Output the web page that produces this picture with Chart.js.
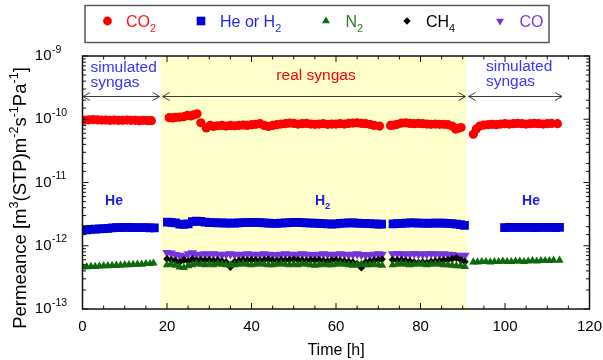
<!DOCTYPE html>
<html><head><meta charset="utf-8">
<script src="https://cdn.jsdelivr.net/npm/chart.js@4.4.0/dist/chart.umd.min.js"></script>
<style>html,body{margin:0;padding:0;background:#fff}canvas{display:block}</style>
</head><body>
<canvas id="c" width="603" height="360"></canvas>
<script>
const FONT = '"Liberation Sans", Arial, Helvetica, sans-serif';

// ---- axes / ticks ----
const xTickValues = [0, 20, 40, 60, 80, 100, 120];
const yDecades = [1e-13, 1e-12, 1e-11, 1e-10, 1e-9];
const yExponents = ['-13', '-12', '-11', '-10', '-9'];
const realSyngasStart = 18.5;
const realSyngasEnd = 90.9;

// ---- CO2 ----
const co2Time = [0.5,1.5,2.5,3.5,4.5,5.5,6.5,7.5,8.5,9.5,10.5,11.5,12.5,13.5,14.5,15.5,16.3,
  20.5,21.3,22,23,24,24.8,25.6,26.3,27.1,
  28,29.3,30.2,31,32,33,34,35,36,37,38,39,40,41,42,43,44,45,46,47,48,49,50,51,52,53,54,55,56,57,58,59,60,61,62,63,64,65,66,67,68,69,70.3,
  72.9,73.7,74.5,75.5,76.5,77.5,78.5,79.5,80.5,81.5,82.5,83.5,84.5,85.5,86.5,87.5,88.3,89,89.6,
  92.5,93.2,94,95,96,97,98,99,100,101,102,103,104,105,106,107,108,109,110,111,112.4];
const co2Values = [0.97e-10,0.98e-10,0.99e-10,0.98e-10,0.97e-10,0.97e-10,0.96e-10,0.97e-10,0.96e-10,0.96e-10,0.97e-10,0.96e-10,0.96e-10,0.95e-10,0.96e-10,0.95e-10,0.95e-10,
  1.06e-10,1.05e-10,1.07e-10,1.08e-10,1.10e-10,1.15e-10,1.13e-10,1.17e-10,1.22e-10,
  0.88e-10,0.73e-10,0.80e-10,
  0.77e-10,0.79e-10,0.80e-10,0.78e-10,0.80e-10,0.79e-10,0.80e-10,0.81e-10,0.80e-10,0.82e-10,
  0.83e-10,0.85e-10,0.80e-10,0.77e-10,0.80e-10,0.82e-10,0.84e-10,0.85e-10,0.87e-10,0.86e-10,
  0.84e-10,0.85e-10,0.86e-10,0.84e-10,0.83e-10,0.84e-10,0.85e-10,0.83e-10,0.84e-10,0.84e-10,
  0.85e-10,0.84e-10,0.86e-10,0.87e-10,0.88e-10,0.86e-10,0.85e-10,0.83e-10,0.80e-10,
  0.78e-10,
  0.80e-10,0.81e-10,0.83e-10,0.87e-10,0.88e-10,0.86e-10,0.85e-10,0.86e-10,0.85e-10,0.84e-10,0.83e-10,0.84e-10,0.83e-10,0.83e-10,0.82e-10,0.78e-10,0.70e-10,0.72e-10,0.74e-10,
  0.58e-10,0.70e-10,0.78e-10,0.81e-10,0.82e-10,0.83e-10,0.82e-10,0.84e-10,0.85e-10,0.84e-10,0.85e-10,0.86e-10,0.85e-10,0.84e-10,0.85e-10,0.86e-10,0.85e-10,0.84e-10,0.85e-10,0.86e-10,0.85e-10];

// ---- He or H2 ----
const hTime = [0,1,2,3,4,5,6,7,8,9,10,11,12,13,14,15,16,17,
  20.1,21,22,23,24,25,26,27,28,29,30,31,32,33,34,35,36,37,38,39,40,41,42,43,44,45,46,47,48,49,50,51,52,53,54,55,56,57,58,59,60,61,62,63,64,65,66,67,68,69,70,70.8,
  73.5,74.5,75.5,76.5,77.5,78.5,79.5,80.5,81.5,82.5,83.5,84.5,85.5,86.5,87.5,88.5,89.5,90.4,
  99.9,101,102,103,104,105,106,107,108,109,110,111,112,112.9];
const hValues = [1.77e-12,1.79e-12,1.81e-12,1.83e-12,1.85e-12,1.87e-12,1.89e-12,1.91e-12,1.93e-12,1.94e-12,1.95e-12,1.95e-12,1.94e-12,1.94e-12,1.93e-12,1.93e-12,1.92e-12,1.92e-12,
  2.36e-12,
  2.34e-12,2.30e-12,2.20e-12,2.18e-12,2.22e-12,2.40e-12,2.45e-12,2.42e-12,2.36e-12,2.33e-12,
  2.32e-12,2.30e-12,2.30e-12,2.28e-12,2.27e-12,2.28e-12,2.30e-12,2.32e-12,2.33e-12,2.34e-12,
  2.35e-12,2.33e-12,2.30e-12,2.28e-12,2.26e-12,2.25e-12,2.27e-12,2.30e-12,2.32e-12,2.34e-12,
  2.35e-12,2.33e-12,2.30e-12,2.28e-12,2.27e-12,2.25e-12,2.24e-12,2.22e-12,2.20e-12,2.22e-12,
  2.25e-12,2.28e-12,2.30e-12,2.30e-12,2.28e-12,2.26e-12,2.25e-12,2.24e-12,2.22e-12,2.20e-12,
  2.20e-12,
  2.22e-12,2.24e-12,2.26e-12,2.28e-12,2.30e-12,2.30e-12,2.28e-12,2.27e-12,2.26e-12,2.27e-12,2.28e-12,2.28e-12,2.27e-12,2.26e-12,2.24e-12,2.20e-12,2.15e-12,2.10e-12,
  1.94e-12,1.95e-12,1.96e-12,1.95e-12,1.95e-12,1.96e-12,1.95e-12,1.94e-12,1.95e-12,1.96e-12,1.95e-12,1.95e-12,1.94e-12,1.95e-12];

// ---- N2 ----
const n2Time = [0,1,2,3,4,5,6,7,8,9,10,11,12,13,14,15,16,16.8,
  20,21,22,23,24,25,26,27,28,29,30,31,32,33,34,35,36,37,38,39,40,41,42,43,44,45,46,47,48,49,50,51,52,53,54,55,56,57,58,59,60,61,62,63,64,65,66,67,68,69,70,70.9,
  73.4,74.5,75.5,76.5,77.5,78.5,79.5,80.5,81.5,82.5,83.5,84.5,85.5,86.5,87.5,88.5,89.5,90.5,
  92.5,93.5,94.5,95.5,96.5,97.5,98.5,99.5,100.5,101.5,102.5,103.5,104.5,105.5,106.5,107.5,108.5,109.5,110.5,111.5,112.9];
const n2Values = [0.46e-12,0.465e-12,0.47e-12,0.47e-12,0.475e-12,0.48e-12,0.48e-12,0.485e-12,0.49e-12,0.49e-12,0.50e-12,0.50e-12,0.505e-12,0.51e-12,0.51e-12,0.52e-12,0.52e-12,0.53e-12,
  0.50e-12,0.51e-12,0.49e-12,0.46e-12,0.45e-12,0.48e-12,0.50e-12,0.52e-12,0.51e-12,0.50e-12,
  0.51e-12,0.50e-12,0.52e-12,0.51e-12,0.50e-12,0.49e-12,0.50e-12,0.51e-12,0.52e-12,0.51e-12,
  0.50e-12,0.51e-12,0.52e-12,0.51e-12,0.50e-12,0.50e-12,0.51e-12,0.52e-12,0.51e-12,0.50e-12,
  0.51e-12,0.50e-12,0.52e-12,0.51e-12,0.50e-12,0.49e-12,0.50e-12,0.51e-12,0.50e-12,0.50e-12,
  0.51e-12,0.52e-12,0.51e-12,0.50e-12,0.49e-12,0.50e-12,0.51e-12,0.50e-12,0.50e-12,0.51e-12,
  0.50e-12,0.49e-12,
  0.50e-12,0.51e-12,0.52e-12,0.51e-12,0.50e-12,0.51e-12,0.52e-12,0.51e-12,0.50e-12,0.51e-12,0.52e-12,0.51e-12,0.50e-12,0.50e-12,0.49e-12,0.48e-12,0.48e-12,0.47e-12,
  0.55e-12,0.55e-12,0.56e-12,0.56e-12,0.55e-12,0.56e-12,0.56e-12,0.57e-12,0.56e-12,0.56e-12,0.57e-12,0.57e-12,0.56e-12,0.57e-12,0.58e-12,0.57e-12,0.58e-12,0.58e-12,0.58e-12,0.59e-12,0.59e-12];

// ---- CH4 ----
const ch4Time = [20,21,22,23,24,25,26,27,28,29,30,31,32,33,34,35,36,37,38,39,40,41,42,43,44,45,46,47,48,49,50,51,52,53,54,55,56,57,58,59,60,61,62,63,64,65,66,67,68,69,70,70.9,
  73.4,74.5,75.5,76.5,77.5,78.5,79.5,80.5,81.5,82.5,83.5,84.5,85.5,86.5,87.5,88.5,89.5,90.5];
const ch4Values = [0.62e-12,0.60e-12,0.58e-12,0.55e-12,0.60e-12,0.57e-12,0.62e-12,0.58e-12,0.60e-12,0.59e-12,
  0.60e-12,0.58e-12,0.59e-12,0.57e-12,0.55e-12,0.46e-12,0.56e-12,0.58e-12,0.60e-12,0.59e-12,
  0.60e-12,0.59e-12,0.58e-12,0.60e-12,0.61e-12,0.59e-12,0.58e-12,0.60e-12,0.59e-12,0.60e-12,
  0.61e-12,0.60e-12,0.59e-12,0.58e-12,0.60e-12,0.59e-12,0.60e-12,0.58e-12,0.57e-12,0.59e-12,
  0.60e-12,0.58e-12,0.57e-12,0.56e-12,0.55e-12,0.52e-12,0.45e-12,0.55e-12,0.57e-12,0.59e-12,
  0.60e-12,0.61e-12,
  0.60e-12,0.59e-12,0.60e-12,0.58e-12,0.57e-12,0.55e-12,0.54e-12,0.55e-12,0.54e-12,0.56e-12,0.57e-12,0.58e-12,0.59e-12,0.60e-12,0.62e-12,0.64e-12,0.60e-12,0.56e-12];

// ---- CO ----
const coTime = [20,21,22,23,24,25,26,27,28,29,30,31,32,33,34,35,36,37,38,39,40,41,42,43,44,45,46,47,48,49,50,51,52,53,54,55,56,57,58,59,60,61,62,63,64,65,66,67,68,69,70,70.9,
  73.4,74.5,75.5,76.5,77.5,78.5,79.5,80.5,81.5,82.5,83.5,84.5,85.5,86.5,87.5,88.5,89.5,90.5];
const coValues = [0.78e-12,0.76e-12,0.72e-12,0.70e-12,0.68e-12,0.74e-12,0.77e-12,0.72e-12,0.73e-12,0.74e-12,
  0.73e-12,0.74e-12,0.73e-12,0.72e-12,0.73e-12,0.74e-12,0.73e-12,0.72e-12,0.73e-12,0.74e-12,
  0.73e-12,0.72e-12,0.73e-12,0.74e-12,0.73e-12,0.72e-12,0.72e-12,0.73e-12,0.74e-12,0.73e-12,
  0.72e-12,0.73e-12,0.74e-12,0.73e-12,0.72e-12,0.72e-12,0.73e-12,0.74e-12,0.73e-12,0.72e-12,
  0.73e-12,0.74e-12,0.73e-12,0.72e-12,0.73e-12,0.74e-12,0.72e-12,0.71e-12,0.72e-12,0.73e-12,
  0.74e-12,0.73e-12,
  0.74e-12,0.75e-12,0.74e-12,0.73e-12,0.74e-12,0.75e-12,0.74e-12,0.73e-12,0.74e-12,0.75e-12,0.74e-12,0.73e-12,0.74e-12,0.73e-12,0.72e-12,0.70e-12,0.68e-12,0.70e-12];

const toPoints = (ts, vs) => ts.map((t, i) => ({x: t, y: vs[i]}));

const series = [
  {label: 'CO2', data: toPoints(co2Time, co2Values), color: '#FF0000', style: 'circle', r: 4.6, rot: 0,
   text: [['CO'], ['2', 'sub']], textColor: '#FF1a1a', mx: 107.5, tx: 126},
  {label: 'He or H2', data: toPoints(hTime, hValues), color: '#0000D6', style: 'rect', r: 6.2, rot: 0,
   text: [['He or H'], ['2', 'sub']], textColor: '#2222F0', mx: 201, tx: 220},
  {label: 'N2', data: toPoints(n2Time, n2Values), color: '#0E680E', style: 'triangle', r: 4.8, rot: 0,
   text: [['N'], ['2', 'sub']], textColor: '#2E7B2E', mx: 326, tx: 345.5},
  {label: 'CH4', data: toPoints(ch4Time, ch4Values), color: '#000000', style: 'rectRot', r: 3.9, rot: 0,
   text: [['CH'], ['4', 'sub']], textColor: '#000000', mx: 407, tx: 426},
  {label: 'CO', data: toPoints(coTime, coValues), color: '#7433DC', style: 'triangle', r: 5.4, rot: 180,
   text: [['CO']], textColor: '#7A3CE0', mx: 500, tx: 519.5}
];

function isDecade(v) {
  const l = Math.log10(v);
  return Math.abs(l - Math.round(l)) < 1e-6;
}

function richWidth(ctx, parts, base) {
  let w = 0;
  for (const p of parts) {
    const s = p[1] ? base * 0.68 : base;
    ctx.font = (p[2] || '') + ' ' + s + 'px ' + FONT;
    w += ctx.measureText(p[0]).width;
  }
  return w;
}
function drawRich(ctx, parts, x, y, base, color, weight) {
  ctx.fillStyle = color;
  ctx.textBaseline = 'alphabetic';
  ctx.textAlign = 'left';
  let cx = x;
  for (const p of parts) {
    const s = p[1] ? base * 0.68 : base;
    ctx.font = (weight || '') + ' ' + s + 'px ' + FONT;
    let dy = 0;
    if (p[1] === 'sub') dy = base * 0.32;
    if (p[1] === 'sup') dy = -base * 0.42;
    ctx.fillText(p[0], cx, y + dy);
    cx += ctx.measureText(p[0]).width;
  }
  return cx;
}

function marker(ctx, style, x, y, r, rot, color) {
  ctx.save();
  ctx.fillStyle = color;
  ctx.translate(x, y);
  ctx.rotate(rot * Math.PI / 180);
  ctx.beginPath();
  if (style === 'circle') {
    ctx.arc(0, 0, r, 0, Math.PI * 2);
  } else if (style === 'rect') {
    const s = r * Math.SQRT1_2;
    ctx.rect(-s, -s, 2 * s, 2 * s);
  } else if (style === 'rectRot') {
    ctx.moveTo(-r, 0); ctx.lineTo(0, -r); ctx.lineTo(r, 0); ctx.lineTo(0, r); ctx.closePath();
  } else if (style === 'triangle') {
    ctx.moveTo(0, -r);
    ctx.lineTo(r * Math.sin(2 * Math.PI / 3), -r * Math.cos(2 * Math.PI / 3));
    ctx.lineTo(r * Math.sin(4 * Math.PI / 3), -r * Math.cos(4 * Math.PI / 3));
    ctx.closePath();
  }
  ctx.fill();
  ctx.restore();
}

function line(ctx, x1, y1, x2, y2) {
  ctx.beginPath(); ctx.moveTo(x1, y1); ctx.lineTo(x2, y2); ctx.stroke();
}

function arrow(ctx, xa, xb, y) {
  ctx.beginPath();
  ctx.moveTo(xa, y); ctx.lineTo(xb, y);
  ctx.moveTo(xa + 7, y - 4); ctx.lineTo(xa, y); ctx.lineTo(xa + 7, y + 4);
  ctx.moveTo(xb - 7, y - 4); ctx.lineTo(xb, y); ctx.lineTo(xb - 7, y + 4);
  ctx.stroke();
}

const deco = {
  id: 'deco',
  beforeDatasetsDraw(chart) {
    const {ctx, chartArea: a, scales: {x}} = chart;
    const x0 = x.getPixelForValue(realSyngasStart), x1 = x.getPixelForValue(realSyngasEnd);
    ctx.save();
    ctx.fillStyle = '#FFFFCC';
    ctx.fillRect(x0, a.top, x1 - x0, a.bottom - a.top);
    ctx.restore();
  },
  afterDraw(chart) {
    const {ctx, chartArea: a, scales: {x, y}} = chart;
    ctx.save();
    // frame
    ctx.strokeStyle = '#111';
    ctx.lineWidth = 1.5;
    ctx.strokeRect(a.left, a.top, a.right - a.left, a.bottom - a.top);
    ctx.lineWidth = 1;
    for (let v = 0; v <= 120; v += 5) {
      const px = x.getPixelForValue(v);
      const len = v % 20 === 0 ? 6 : 3.5;
      line(ctx, px, a.bottom, px, a.bottom - len);
      line(ctx, px, a.top, px, a.top + len);
    }
    y.ticks.forEach(t => {
      const py = y.getPixelForValue(t.value);
      const len = isDecade(t.value) ? 6 : 3.5;
      line(ctx, a.left, py, a.left + len, py);
      line(ctx, a.right, py, a.right - len, py);
    });
    const labRight = a.left - y.options.ticks.padding;
    ctx.fillStyle = '#000';
    ctx.font = '10.5px ' + FONT;
    ctx.textAlign = 'left';
    ctx.textBaseline = 'alphabetic';
    yDecades.forEach((v, i) => {
      const py = y.getPixelForValue(v);
      ctx.fillText(yExponents[i], labRight + 0.5, py - 3.5);
    });
    const yTitle = [['Permeance [m'], ['3', 'sup'], ['(STP)m'], ['-2', 'sup'], ['s'], ['-1', 'sup'], ['Pa'], ['-1', 'sup'], [']']];
    ctx.save();
    ctx.translate(19, 198);
    ctx.rotate(-Math.PI / 2);
    const tw = richWidth(ctx, yTitle, 18.5);
    drawRich(ctx, yTitle, -tw / 2, 6.5, 18.5, '#000');
    ctx.restore();

    ctx.strokeStyle = '#3a3a3a';
    ctx.lineWidth = 1;
    const ay = 96.5;
    const p0 = x.getPixelForValue(0), pS = x.getPixelForValue(realSyngasStart),
          pE = x.getPixelForValue(realSyngasEnd), pZ = x.getPixelForValue(113.5);
    arrow(ctx, p0 + 0.5, pS - 1, ay);
    arrow(ctx, pS + 2, pE - 1, ay);
    arrow(ctx, pE + 2, pZ, ay);

    const blueTxt = '#3535FF';
    drawRich(ctx, [['simulated']], 90.5, 71.5, 15.5, blueTxt);
    drawRich(ctx, [['syngas']], 90.5, 86.5, 15.5, blueTxt);
    drawRich(ctx, [['simulated']], 486, 71, 15.5, blueTxt);
    drawRich(ctx, [['syngas']], 486, 86, 15.5, blueTxt);
    ctx.font = '15.5px ' + FONT;
    const rw = ctx.measureText('real syngas').width;
    drawRich(ctx, [['real syngas']], 316 - rw / 2, 79.5, 15.5, '#FF0000');

    const heCol = '#1C1CEA';
    ctx.font = 'bold 14px ' + FONT;
    const hw = ctx.measureText('He').width;
    drawRich(ctx, [['He', '', 'bold']], 114 - hw / 2, 205, 14, heCol, 'bold');
    drawRich(ctx, [['He', '', 'bold']], 531 - hw / 2, 205, 14, heCol, 'bold');
    drawRich(ctx, [['H', '', 'bold'], ['2', 'sub', 'bold']], 315, 205, 14, heCol, 'bold');

    ctx.fillStyle = '#fff';
    ctx.fillRect(85, 5.5, 464, 37);
    ctx.strokeStyle = '#555';
    ctx.lineWidth = 1.5;
    ctx.strokeRect(85, 5.5, 464, 37);
    series.forEach(s => {
      let lr = s.r;
      if (s.style === 'circle') lr = 4.4;
      if (s.style === 'rect') lr = 6.1;
      if (s.style === 'triangle') lr = 4.6;
      if (s.style === 'rectRot') lr = 3.7;
      marker(ctx, s.style, s.mx, 21, lr, s.rot, s.color);
      drawRich(ctx, s.text, s.tx, 27, 16, s.textColor);
    });
    ctx.restore();
  }
};

new Chart(document.getElementById('c'), {
  type: 'scatter',
  data: {
    datasets: series.map(s => ({
      label: s.label,
      data: s.data,
      showLine: false,
      pointStyle: s.style,
      pointRadius: s.r,
      pointRotation: s.rot,
      pointBackgroundColor: s.color,
      pointBorderColor: s.color,
      pointBorderWidth: 0,
      pointHoverRadius: s.r
    }))
  },
  options: {
    responsive: false,
    animation: false,
    devicePixelRatio: 1,
    layout: {padding: {top: 56, right: 13.5, left: 0, bottom: 0}},
    plugins: {legend: {display: false}, tooltip: {enabled: false}},
    scales: {
      x: {
        type: 'linear', min: 0, max: 120,
        afterFit: s => { s.height = 51; s.paddingLeft = 0; s.paddingRight = 0; },
        grid: {display: false, drawTicks: false},
        border: {display: false},
        afterBuildTicks: s => { s.ticks = xTickValues.map(v => ({value: v})); },
        ticks: {font: {size: 15, family: FONT}, color: '#000', padding: 9, maxRotation: 0, autoSkip: false},
        title: {display: true, text: 'Time [h]', color: '#000', font: {size: 16, family: FONT}, padding: {top: 0, bottom: 0}}
      },
      y: {
        type: 'logarithmic', min: 1e-13, max: 1e-9,
        afterFit: s => { s.width = 82.5; s.paddingTop = 0; s.paddingBottom = 0; },
        grid: {display: false, drawTicks: false},
        border: {display: false},
        ticks: {
          font: {size: 15, family: FONT}, color: '#000', padding: 31, autoSkip: false,
          callback: v => isDecade(v) ? '10' : ''
        },
        title: {display: false}
      }
    }
  },
  plugins: [deco]
});
</script>
</body></html>
